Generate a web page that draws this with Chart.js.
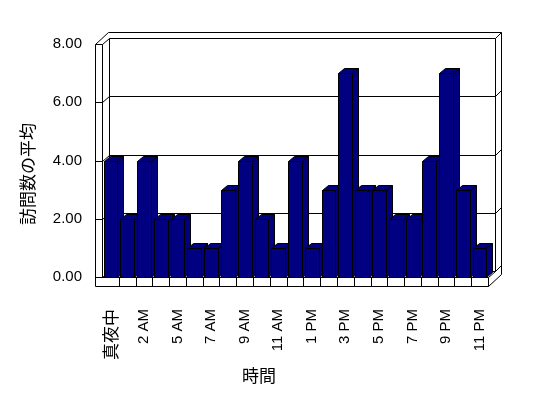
<!DOCTYPE html>
<html>
<head>
<meta charset="utf-8">
<script src="https://cdn.jsdelivr.net/npm/chart.js@4.4.1/dist/chart.umd.min.js"></script>
<style>
    html, body { margin: 0; padding: 0; background: #fff; }
</style>
</head>
<body>
<canvas id="chart" width="548" height="398"></canvas>
<script>
// Chart data
const hours = ['真夜中', '1 AM', '2 AM', '3 AM', '5 AM', '6 AM', '7 AM', '8 AM', '9 AM', '10 AM', '11 AM', '正午',
               '1 PM', '2 PM', '3 PM', '4 PM', '5 PM', '6 PM', '7 PM', '8 PM', '9 PM', '10 PM', '11 PM'];
const visits = [4, 2, 4, 2, 2, 1, 1, 3, 4, 2, 1, 4, 1, 3, 7, 3, 3, 2, 2, 4, 7, 3, 1];
const yMax = 8;
const yStep = 2;
const xTitle = '時間';
const yTitle = '訪問数の平均';

const latinFont = "'Liberation Sans', Arial, sans-serif";
const cjkFont = "'Noto Sans CJK JP', sans-serif";
const barColor = '#000080';

// 3D look
const depth = { x: 7, y: -6 };     // front plane -> inner face of back wall
const wallOut = { x: 13, y: -12 }; // front plane -> outer face of back wall
const wallW = 7;                   // left wall thickness
const floorH = 9;                  // floor thickness
const barD = { x: 6, y: -5 };      // bar depth

function px(v) {
    return Math.round(v) + 0.5;
}

function seg(ctx, x1, y1, x2, y2) {
    ctx.beginPath();
    ctx.moveTo(px(x1), px(y1));
    ctx.lineTo(px(x2), px(y2));
    ctx.stroke();
}

function poly(ctx, pts) {
    ctx.beginPath();
    ctx.moveTo(px(pts[0][0]), px(pts[0][1]));
    for (let i = 1; i < pts.length; i++) {
        ctx.lineTo(px(pts[i][0]), px(pts[i][1]));
    }
    ctx.closePath();
    ctx.fill();
    ctx.stroke();
}

// Walls, floor and gridlines, then the 3D bars
const box3d = {
    id: 'box3d',
    beforeDatasetsDraw(chart) {
        const ctx = chart.ctx;
        const a = chart.chartArea;
        const y = chart.scales.y;
        const L = a.left, R = a.right;
        const T = y.getPixelForValue(yMax), B = y.getPixelForValue(0);
        ctx.save();
        ctx.strokeStyle = '#000';
        ctx.lineWidth = 1;

        // left wall
        seg(ctx, L - wallW, T, L - wallW, B + floorH);
        seg(ctx, L, T, L, B);
        seg(ctx, L - wallW, T, L - wallW + wallOut.x, T + wallOut.y);

        // back wall
        seg(ctx, L - wallW + wallOut.x, T + wallOut.y, R + wallOut.x, T + wallOut.y);
        seg(ctx, R + wallOut.x, T + wallOut.y, R + wallOut.x, B + floorH + wallOut.y);
        seg(ctx, L + depth.x, T + depth.y, L + depth.x, B + depth.y);
        seg(ctx, R + depth.x, T + depth.y, R + depth.x, B + depth.y);

        // gridlines
        y.ticks.forEach(t => {
            const yy = y.getPixelForValue(t.value);
            seg(ctx, L - wallW, yy, L, yy);
            seg(ctx, L, yy, L + depth.x, yy + depth.y);
            seg(ctx, L + depth.x, yy + depth.y, R + depth.x, yy + depth.y);
            seg(ctx, R + depth.x, yy + depth.y, R + wallOut.x, yy + wallOut.y);
        });

        // floor
        seg(ctx, L, B, R, B);
        seg(ctx, R, B, R + depth.x, B + depth.y);
        seg(ctx, L - wallW, B + floorH, R, B + floorH);
        seg(ctx, R, B, R, B + floorH);
        seg(ctx, R, B + floorH, R + wallOut.x, B + floorH + wallOut.y);

        // category dividers on floor edge
        const n = hours.length;
        const cw = (R - L) / n;
        for (let i = 1; i < n; i++) {
            seg(ctx, L + i * cw, B, L + i * cw, B + floorH);
        }
        ctx.restore();
    },
    afterDatasetsDraw(chart) {
        const ctx = chart.ctx;
        const meta = chart.getDatasetMeta(0);
        ctx.save();
        ctx.fillStyle = barColor;
        ctx.strokeStyle = '#000';
        ctx.lineWidth = 1;
        meta.data.forEach(bar => {
            const p = bar.getProps(['x', 'y', 'base', 'width'], true);
            const x0 = p.x - p.width / 2, x1 = p.x + p.width / 2;
            if (p.base - p.y < 0.5) return;
            // top face
            poly(ctx, [[x0, p.y], [x1, p.y], [x1 + barD.x, p.y + barD.y], [x0 + barD.x, p.y + barD.y]]);
            // side face
            poly(ctx, [[x1, p.y], [x1 + barD.x, p.y + barD.y], [x1 + barD.x, p.base + barD.y], [x1, p.base]]);
            // front face again so it covers the previous side
            poly(ctx, [[x0, p.y], [x1, p.y], [x1, p.base], [x0, p.base]]);
        });
        ctx.restore();
    },
    afterDraw(chart) {
        const ctx = chart.ctx;
        ctx.save();
        ctx.fillStyle = '#000';
        ctx.font = '17px ' + cjkFont;
        ctx.textAlign = 'center';
        ctx.textBaseline = 'middle';
        ctx.fillText(xTitle, 259, 376);
        ctx.translate(28, 174);
        ctx.rotate(-Math.PI / 2);
        ctx.fillText(yTitle, 0, 0);
        ctx.restore();
    }
};

const config = {
    type: 'bar',
    data: {
        labels: hours,
        datasets: [{
            data: visits,
            backgroundColor: 'rgba(0,0,0,0)',
            borderWidth: 0,
            categoryPercentage: 1,
            barPercentage: 0.82
        }]
    },
    options: {
        responsive: false,
        animation: false,
        layout: {
            padding: { top: 44, right: 60, left: 0, bottom: 0 }
        },
        plugins: {
            legend: { display: false },
            tooltip: { enabled: false }
        },
        scales: {
            x: {
                grid: { display: false },
                border: { display: false },
                afterFit: function(scale) { scale.height = 121; },
                ticks: {
                    autoSkip: false,
                    minRotation: 90,
                    maxRotation: 90,
                    padding: 24,
                    color: '#000',
                    font: function(c) {
                        const lbl = c.tick && c.tick.label ? String(c.tick.label) : '';
                        return /[^\x00-\x7f]/.test(lbl) ? { family: cjkFont, size: 17 } : { family: latinFont, size: 15 };
                    },
                    callback: function(v, i) { return i % 2 === 0 ? hours[i] : ''; }
                }
            },
            y: {
                min: 0,
                max: yMax,
                grid: { display: false, drawTicks: false },
                border: { display: false },
                afterFit: function(scale) { scale.width = 102; },
                ticks: {
                    stepSize: yStep,
                    padding: 20,
                    color: '#000',
                    font: { family: latinFont, size: 15 },
                    callback: function(v) { return v.toFixed(2); }
                }
            }
        }
    },
    plugins: [box3d]
};

new Chart(document.getElementById('chart'), config);
</script>
</body>
</html>
